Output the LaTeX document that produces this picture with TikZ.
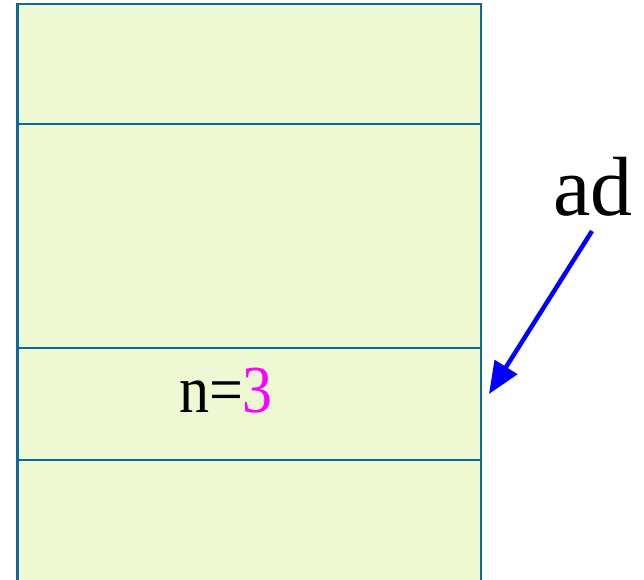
\documentclass[tikz,border=0pt]{standalone}
\usepackage{fontspec}
\setmainfont{Liberation Serif}
\usetikzlibrary{arrows.meta}
\definecolor{cellfill}{RGB}{238,249,212}
\definecolor{celledge}{RGB}{16,104,152}
\definecolor{numcol}{RGB}{255,0,255}
\definecolor{ptrcol}{RGB}{0,0,255}
\begin{document}
\begin{tikzpicture}[x=1pt,y=-1pt,
  cell/.style={fill=cellfill,draw=celledge,line width=2.6pt},
  pointer/.style={draw=ptrcol,line width=4.5pt,-{Triangle[length=32pt,width=26pt]}}]
\useasboundingbox (0,0) rectangle (644,579);
\clip (0,0) rectangle (644,579);
\path[cell] (17.5,4) rectangle (481,124);
\path[cell] (17.5,124) rectangle (481,348);
\path[cell] (17.5,348) rectangle (481,460);
\path[cell] (17.5,460) rectangle (481,600);
\node[anchor=base,inner sep=0pt,yscale=1.12,transform shape,font=\fontsize{60}{60}\selectfont] (n) at (226,412) {n=\textcolor{numcol}{3}};
\node[anchor=base,inner sep=0pt,font=\fontsize{84}{84}\selectfont] (ad) at (593,215) {ad};
\coordinate (tail) at (592,231);
\coordinate (tip) at (489,394);
\draw[pointer] (tail) -- (tip);
\end{tikzpicture}
\end{document}
